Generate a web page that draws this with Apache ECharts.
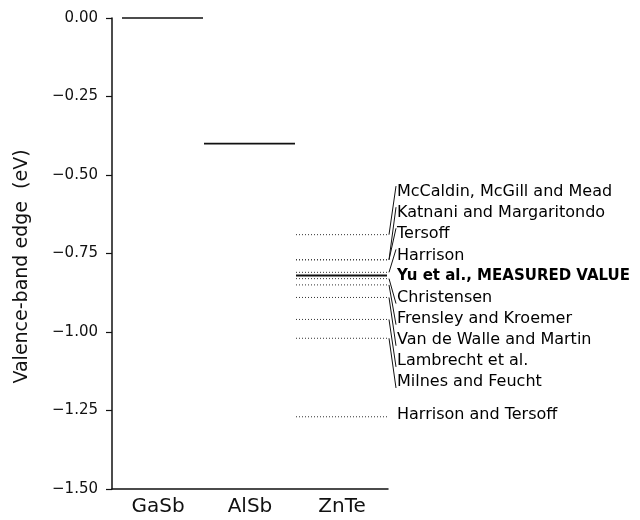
<!DOCTYPE html>
<html>
<head>
<meta charset="utf-8">
<script src="https://cdn.jsdelivr.net/npm/echarts@6/dist/echarts.min.js"></script>
<style>
  html, body { margin: 0; padding: 0; background: #fff; }
  #chart { width: 640px; height: 520px; }
</style>
</head>
<body>
<div id="chart"></div>
<script>
// ---- data ----
const categories = ['GaSb', 'AlSb', 'ZnTe'];
const measuredEdges = [0.00, -0.40, -0.82];          // solid lines (measured)
const measuredLabel = 'Yu et al., MEASURED VALUE';
const theoryNames = [
  'McCaldin, McGill and Mead',
  'Katnani and Margaritondo',
  'Tersoff',
  'Harrison',
  'Christensen',
  'Frensley and Kroemer',
  'Van de Walle and Martin',
  'Lambrecht et al.',
  'Milnes and Feucht',
  'Harrison and Tersoff'
];
const theoryValues = [-0.69, -0.77, -0.77, -0.81, -0.83, -0.85, -0.89, -0.96, -1.02, -1.27];
const yMin = -1.5, yMax = 0, yStep = 0.25;
const yName = 'Valence-band edge  (eV)';

// ---- chart ----
const FONT = '"DejaVu Sans", sans-serif';
const chart = echarts.init(document.getElementById('chart'), null, { renderer: 'canvas' });

function fmt(v) {
  const s = Math.abs(v).toFixed(2);
  return (v < -1e-9 ? '\u2212' : '') + s;
}

const option = {
  backgroundColor: '#fff',
  animation: false,
  grid: { left: 112, right: 252, top: 18, bottom: 31, containLabel: false },
  xAxis: {
    type: 'category',
    data: categories,
    boundaryGap: true,
    axisLine: { show: true, onZero: false, lineStyle: { color: '#111', width: 1.5 } },
    axisTick: { show: false },
    axisLabel: { color: '#111', fontSize: 20, fontFamily: FONT, margin: 8 },
    splitLine: { show: false }
  },
  yAxis: {
    type: 'value',
    min: yMin, max: yMax, interval: yStep,
    name: yName,
    nameLocation: 'middle',
    nameGap: 80,
    nameRotate: 90,
    nameTextStyle: { color: '#111', fontSize: 19, fontFamily: FONT, padding: [0, 26, 0, 0] },
    axisLine: { show: true, lineStyle: { color: '#111', width: 1.5 } },
    axisTick: { show: true, inside: false, length: 6, lineStyle: { color: '#111', width: 1.2 } },
    axisLabel: { color: '#111', fontSize: 15, fontFamily: FONT, margin: 14, formatter: fmt },
    splitLine: { show: false }
  },
  series: [
    {
      type: 'custom',
      name: 'measured',
      data: measuredEdges.map((v, i) => [i, v]),
      renderItem: function (params, api) {
        const i = api.value(0), v = api.value(1);
        const c = api.coord([i, v]);
        const bw = api.size([1, 0])[0];
        let x0 = c[0] - bw / 2, x1 = c[0] + bw / 2 - 1;
        if (i === 0) x0 += 10;
        const children = [{
          type: 'line',
          shape: { x1: x0, y1: c[1], x2: x1, y2: c[1] },
          style: { stroke: '#111', lineWidth: i === 2 ? 2.2 : 1.6 }
        }];
        if (i === 2) {
          children.push({
            type: 'text',
            x: x1 + 10, y: c[1] + 1,
            style: { text: measuredLabel, font: 'bold 15px ' + FONT, fill: '#000', align: 'left', verticalAlign: 'middle' }
          });
        }
        return { type: 'group', children: children };
      },
      z: 3
    },
    {
      type: 'custom',
      name: 'theory',
      data: theoryValues.map(v => [2, v]),
      renderItem: function (params, api) {
        const k = params.dataIndex;
        const v = api.value(1);
        const c = api.coord([2, v]);
        const bw = api.size([1, 0])[0];
        const x0 = c[0] - bw / 2, x1 = c[0] + bw / 2 - 1;
        const my = api.coord([2, measuredEdges[2]])[1] + 1;
        const last = k === theoryNames.length - 1;
        const slot = k < 4 ? k : k + 1;
        const ly = last ? c[1] - 2 : my + (slot - 4) * 21.1;
        const children = [{
          type: 'line',
          shape: { x1: x0, y1: c[1], x2: x1, y2: c[1] },
          style: { stroke: '#333', lineWidth: 1, lineDash: [1, 2] }
        }];
        if (!last) {
          const ty = slot < 4 ? ly - 6 : ly + 6;
          children.push({
            type: 'line',
            shape: { x1: x1 + 2, y1: c[1], x2: x1 + 9, y2: ty },
            style: { stroke: '#111', lineWidth: 1 }
          });
        }
        children.push({
          type: 'text',
          x: x1 + 10, y: ly,
          style: { text: theoryNames[k], font: '16px ' + FONT, fill: '#000', align: 'left', verticalAlign: 'middle' }
        });
        return { type: 'group', children: children };
      },
      z: 2
    }
  ]
};
chart.setOption(option);
</script>
</body>
</html>
